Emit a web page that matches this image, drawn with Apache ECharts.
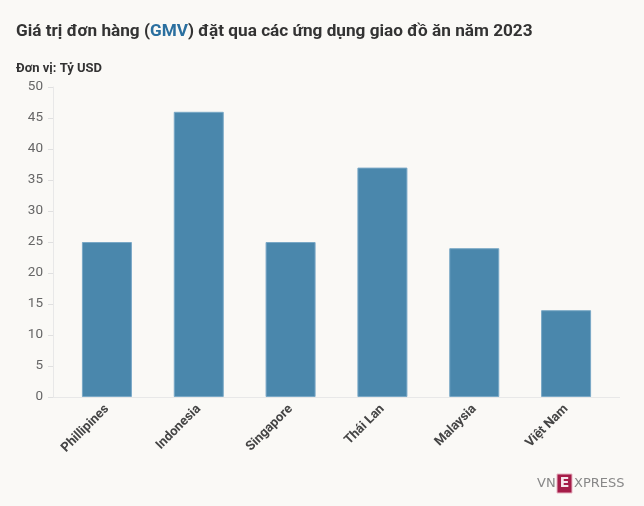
<!DOCTYPE html>
<html><head><meta charset="utf-8">
<script src="https://cdn.jsdelivr.net/npm/echarts@6/dist/echarts.min.js"></script>
<style>html,body{margin:0;padding:0;background:#faf9f6}#c{width:644px;height:506px}</style>
</head><body><div id="c"></div>
<script>
const categories = ['Phillipines','Indonesia','Singapore','Thái Lan','Malaysia','Việt Nam'];
const values = [25, 46, 25, 37, 24, 14];
const yTicks = {min: 0, max: 50, interval: 5};
const FONT = 'Roboto';
const chart = echarts.init(document.getElementById('c'));
chart.setOption({
  backgroundColor: '#faf9f6',
  animation: false,
  title: [{
    text: 'Giá trị đơn hàng ({g|GMV}) đặt qua các ứng dụng giao đồ ăn năm 2023',
    left: 11, top: 18,
    textStyle: {fontFamily: FONT, fontSize: 17.2, fontWeight: 'bold', color: '#333',
      rich: {g: {fontFamily: FONT, fontSize: 17.2, fontWeight: 'bold', color: '#2a6f9f'}}}
  }, {
    text: 'Đơn vị: Tỷ USD', left: 11, top: 57,
    textStyle: {fontFamily: FONT, fontSize: 13, fontWeight: 'bold', color: '#333'}
  }],
  grid: {left: 61, right: 32, top: 87, bottom: 109},
  xAxis: {
    type: 'category', data: categories,
    axisLine: {lineStyle: {color: '#e8e8e8'}},
    axisTick: {alignWithLabel: true, length: 5, lineStyle: {color: '#e0e0e0'}},
    axisLabel: {rotate: 45, fontFamily: FONT, fontSize: 13, fontWeight: 'bold', color: '#444', margin: 10}
  },
  yAxis: {
    type: 'value', min: yTicks.min, max: yTicks.max, interval: yTicks.interval, offset: 8,
    axisLine: {show: true, lineStyle: {color: '#e8e8e8'}},
    axisTick: {show: true, length: 5, lineStyle: {color: '#e0e0e0'}},
    splitLine: {show: false},
    axisLabel: {fontFamily: FONT, fontSize: 13.5, color: '#666', margin: 10}
  },
  series: [{
    type: 'bar', data: values, barWidth: 50,
    itemStyle: {color: '#4a87ac', borderColor: '#79a8c6', borderWidth: 1}
  }],
  graphic: [
    {type: 'line', shape: {x1: 53, y1: 397.5, x2: 620, y2: 397.5}, style: {stroke: '#e8e8e8', lineWidth: 1}, z: -1},
    {type: 'text', left: 537, top: 477, style: {text: 'VN', fontFamily: 'DejaVu Sans', fontSize: 13, fill: '#888'}},
    {type: 'rect', shape: {x: 557, y: 474, width: 15, height: 19}, style: {fill: '#a51c48', stroke: '#e7b6c4', lineWidth: 1}},
    {type: 'text', x: 564.5, y: 483.5, style: {text: 'E', fontFamily: 'DejaVu Sans', fontSize: 14, fontWeight: 'bold', fill: '#f5e6eb', align: 'center', verticalAlign: 'middle'}},
    {type: 'text', left: 574, top: 477, style: {text: 'XPRESS', fontFamily: 'DejaVu Sans', fontSize: 13, fill: '#888'}}
  ]
});
</script></body></html>
